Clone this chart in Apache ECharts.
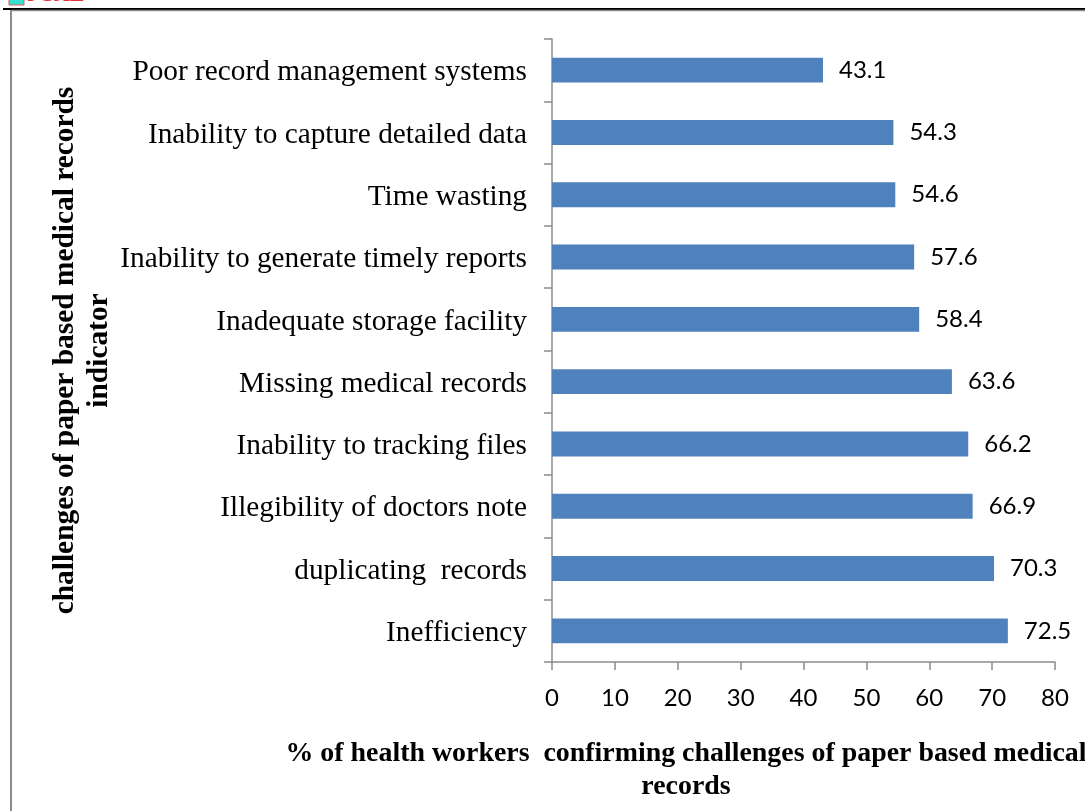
<!DOCTYPE html>
<html>
<head>
<meta charset="utf-8">
<style>
  html, body { margin: 0; padding: 0; background: #fff; overflow: hidden; }
  #chart { width: 1085px; height: 811px; }
</style>
<script src="https://cdn.jsdelivr.net/npm/echarts@6/dist/echarts.min.js"></script>
</head>
<body>
<div id="chart"></div>
<script>
const categories = [
  'Inefficiency',
  'duplicating  records',
  'Illegibility of doctors note',
  'Inability to tracking files',
  'Missing medical records',
  'Inadequate storage facility',
  'Inability to generate timely reports',
  'Time wasting',
  'Inability to capture detailed data',
  'Poor record management systems'
]
const values = [72.5, 70.3, 66.9, 66.2, 63.6, 58.4, 57.6, 54.6, 54.3, 43.1]
const xTitle = '% of health workers  confirming challenges of paper based medical\nrecords'
const yTitle = 'challenges of paper based medical records\nindicator'

const serif = '"Liberation Serif", "Times New Roman", serif'
const axisGrey = '#8c8c8c'

const chart = echarts.init(document.getElementById('chart'), null, { renderer: 'canvas' })

chart.setOption({
  animation: false,
  backgroundColor: '#fff',
  grid: { left: 552, right: 30, top: 39, bottom: 149 },
  title: {
    text: xTitle,
    left: 681,
    top: 732,
    textAlign: 'center',
    textStyle: { fontFamily: serif, fontSize: 27.9, fontWeight: 'bold', color: '#000', lineHeight: 33 }
  },
  xAxis: {
    type: 'value',
    min: 0,
    max: 80,
    interval: 10,
    splitLine: { show: false },
    axisLine: { show: true, lineStyle: { color: axisGrey, width: 1.5 } },
    axisTick: { show: true, length: 8, lineStyle: { color: axisGrey, width: 1.5 } },
    axisLabel: { margin: 24, fontFamily: 'Lato', fontSize: 24, color: '#000' }
  },
  yAxis: {
    type: 'category',
    data: categories,
    name: yTitle,
    nameLocation: 'middle',
    nameRotate: 90,
    nameGap: 436,
    nameTextStyle: { fontFamily: serif, fontSize: 29.4, fontWeight: 'bold', color: '#000', lineHeight: 34 },
    axisLine: { show: true, lineStyle: { color: axisGrey, width: 1.5 } },
    axisTick: { show: true, length: 8, lineStyle: { color: axisGrey, width: 1.5 } },
    axisLabel: {
      margin: 25,
      formatter: v => `{a|${v}}`,
      rich: { a: { padding: [5, 0, 0, 0], fontFamily: serif, fontSize: 29.3, color: '#000' } }
    }
  },
  series: [{
    type: 'bar',
    data: values,
    barWidth: '40%',
    itemStyle: { color: '#4f81bd' },
    label: {
      show: true,
      position: 'right',
      distance: 16,
      padding: [5, 0, 0, 0],
      fontFamily: 'Lato',
      fontSize: 24,
      color: '#000',
      formatter: p => p.value.toFixed(1)
    }
  }],
  graphic: [
    { type: 'line', shape: { x1: 3, y1: 9, x2: 1085, y2: 9 }, style: { stroke: '#000', lineWidth: 2 } },
    { type: 'line', shape: { x1: 11, y1: 10.5, x2: 1085, y2: 10.5 }, style: { stroke: axisGrey, lineWidth: 1.5 } },
    { type: 'line', shape: { x1: 11, y1: 10, x2: 11, y2: 811 }, style: { stroke: axisGrey, lineWidth: 2 } },
    { type: 'rect', shape: { x: 9, y: -4, width: 15, height: 9 }, style: { fill: '#35e0d0', stroke: '#e25a5a', lineWidth: 1 } },
    { type: 'text', x: 27, y: -16, style: { text: 'JCAL', fill: '#e0303a', font: 'bold 22px "Liberation Serif"' } }
  ]
})

window.addEventListener('resize', () => chart.resize())
</script>
</body>
</html>
